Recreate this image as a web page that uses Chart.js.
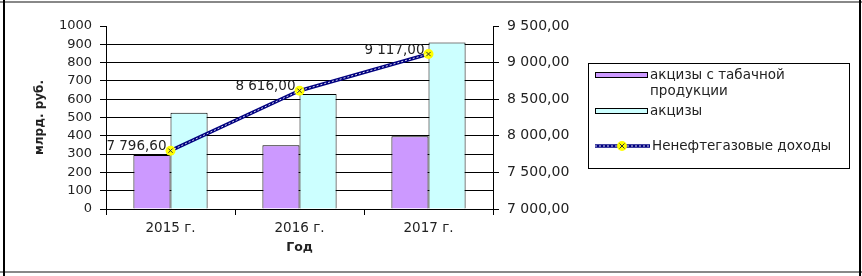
<!DOCTYPE html>
<html lang="ru">
<head>
<meta charset="utf-8">
<title>Акцизы и ненефтегазовые доходы</title>
<script src="https://cdn.jsdelivr.net/npm/chart.js@4.4.1/dist/chart.umd.min.js"></script>
<style>
    html, body { margin: 0; padding: 0; background: #fff; }
    #wrap { width: 862px; height: 276px; }
</style>
</head>
<body>
<div id="wrap"><canvas id="chart" width="862" height="276"></canvas></div>
<script>
// Chart data
const years = ['2015 г.', '2016 г.', '2017 г.'];
const tobaccoExcise = [295, 348, 397];
const totalExcise = [526, 628, 910];
const nonOilIncome = [7796.6, 8616, 9117];

// Axis ranges
const leftTicks = [0, 100, 200, 300, 400, 500, 600, 700, 800, 900, 1000];
const rightTicks = [7000, 7500, 8000, 8500, 9000, 9500];

const FONT = '"DejaVu Sans", Verdana, sans-serif';
const TEXT = '#222';

Chart.defaults.font.family = FONT;
Chart.defaults.color = TEXT;

// 9 117,00 style numbers
function formatRu(v) {
    const parts = Number(v).toFixed(2).split('.');
    return parts[0].replace(/\B(?=(\d{3})+(?!\d))/g, ' ') + ',' + parts[1];
}

// Page frame around the chart
const framePlugin = {
    id: 'frame',
    beforeDraw(chart) {
        const ctx = chart.ctx;
        ctx.save();
        ctx.fillStyle = '#fff';
        ctx.fillRect(0, 0, chart.width, chart.height);
        ctx.fillStyle = '#888';
        ctx.fillRect(0, 1, chart.width, 2);
        ctx.fillRect(0, 271, chart.width, 2);
        ctx.fillStyle = '#000';
        ctx.fillRect(3, 0, 2, chart.height);
        ctx.fillRect(859, 0, 2, chart.height);
        ctx.restore();
    }
};

// Value labels next to line points
const valueLabels = {
    id: 'valueLabels',
    afterDatasetsDraw(chart) {
        const ctx = chart.ctx;
        const meta = chart.getDatasetMeta(2);
        ctx.save();
        ctx.font = '13.5px ' + FONT;
        ctx.fillStyle = TEXT;
        ctx.textAlign = 'right';
        ctx.textBaseline = 'middle';
        meta.data.forEach((pt, i) => {
            ctx.fillText(formatRu(nonOilIncome[i]), pt.x - 4, pt.y - 4);
        });
        ctx.restore();
    }
};

function drawMarker(ctx, x, y) {
    ctx.fillStyle = '#ffff00';
    ctx.beginPath();
    ctx.arc(x, y, 5, 0, Math.PI * 2);
    ctx.fill();
    ctx.strokeStyle = '#333';
    ctx.lineWidth = 1;
    ctx.beginPath();
    ctx.moveTo(x - 2.5, y - 2.5); ctx.lineTo(x + 2.5, y + 2.5);
    ctx.moveTo(x + 2.5, y - 2.5); ctx.lineTo(x - 2.5, y + 2.5);
    ctx.stroke();
}

function drawPatternLine(ctx, x1, x2, y) {
    ctx.strokeStyle = '#000080';
    ctx.lineWidth = 3.5;
    ctx.setLineDash([]);
    ctx.beginPath(); ctx.moveTo(x1, y); ctx.lineTo(x2, y); ctx.stroke();
    ctx.strokeStyle = 'rgba(255,255,255,0.85)';
    ctx.lineWidth = 1;
    ctx.setLineDash([2, 2]);
    ctx.beginPath(); ctx.moveTo(x1, y); ctx.lineTo(x2, y); ctx.stroke();
    ctx.setLineDash([]);
}

// Boxed legend on the right
const boxLegend = {
    id: 'boxLegend',
    afterDraw(chart) {
        const ctx = chart.ctx;
        const box = { x: 588.5, y: 63.5, w: 261, h: 105 };
        ctx.save();
        ctx.strokeStyle = '#000';
        ctx.lineWidth = 1;
        ctx.strokeRect(box.x, box.y, box.w, box.h);

        ctx.font = '13.5px ' + FONT;
        ctx.fillStyle = TEXT;
        ctx.textBaseline = 'middle';
        ctx.textAlign = 'left';

        const ds = chart.data.datasets;
        // bar entries
        const rows = [
            { d: ds[0], y: 75, lines: ['акцизы с табачной', 'продукции'] },
            { d: ds[1], y: 111, lines: [ds[1].label] }
        ];
        rows.forEach(r => {
            ctx.fillStyle = r.d.backgroundColor;
            ctx.fillRect(595, r.y - 2.5, 52, 5);
            ctx.strokeStyle = '#000';
            ctx.strokeRect(595.5, r.y - 2.5, 52, 5);
            ctx.fillStyle = TEXT;
            r.lines.forEach((t, k) => ctx.fillText(t, 650, r.y + k * 16));
        });

        // line entry
        const ly = 146;
        drawPatternLine(ctx, 595, 650, ly);
        drawMarker(ctx, 622, ly);
        ctx.fillStyle = TEXT;
        ctx.fillText(ds[2].label, 652, ly);
        ctx.restore();
    }
};

const ctx = document.getElementById('chart').getContext('2d');
new Chart(ctx, {
    type: 'bar',
    data: {
        labels: years,
        datasets: [
            {
                label: 'акцизы с табачной продукции',
                data: tobaccoExcise,
                backgroundColor: '#cc99ff',
                borderColor: '#000',
                borderWidth: 1,
                yAxisID: 'y',
                order: 3
            },
            {
                label: 'акцизы',
                data: totalExcise,
                backgroundColor: '#ccffff',
                borderColor: '#000',
                borderWidth: 1,
                yAxisID: 'y',
                order: 3
            },
            {
                type: 'line',
                label: 'Ненефтегазовые доходы',
                data: nonOilIncome,
                borderColor: '#000080',
                borderWidth: 3.5,
                pointStyle: 'circle',
                pointRadius: 5,
                pointBackgroundColor: '#ffff00',
                pointBorderColor: '#ffff00',
                pointBorderWidth: 0,
                tension: 0,
                yAxisID: 'y1',
                order: 1
            },
            {
                // white dotted core of the line + cross markers
                type: 'line',
                label: '',
                data: nonOilIncome,
                borderColor: 'rgba(255,255,255,0.85)',
                borderWidth: 1,
                borderDash: [2, 2],
                pointStyle: 'crossRot',
                pointRadius: 3,
                pointBorderColor: '#333',
                pointBorderWidth: 1,
                tension: 0,
                yAxisID: 'y1',
                order: 0
            }
        ]
    },
    options: {
        responsive: false,
        animation: false,
        devicePixelRatio: 1,
        layout: { padding: { top: 26, left: 0, right: 0, bottom: 0 } },
        datasets: {
            bar: { categoryPercentage: 0.575, barPercentage: 1 }
        },
        plugins: {
            legend: { display: false },
            tooltip: { enabled: false }
        },
        scales: {
            x: {
                offset: true,
                grid: {
                    offset: true,
                    drawOnChartArea: false,
                    drawTicks: true,
                    tickLength: 6,
                    tickColor: '#000'
                },
                border: { color: '#000', width: 1 },
                ticks: { font: { size: 13.5 }, color: TEXT, padding: 5 },
                title: {
                    display: true,
                    text: 'Год',
                    font: { size: 12.5, weight: 'bold' },
                    color: TEXT,
                    padding: { top: 0, bottom: 21 }
                },
                afterFit(scale) { scale.height = 67; }
            },
            y: {
                position: 'left',
                min: leftTicks[0],
                max: leftTicks[leftTicks.length - 1],
                ticks: {
                    stepSize: leftTicks[1] - leftTicks[0],
                    autoSkip: false,
                    callback: v => String(v),
                    font: { size: 13 },
                    color: TEXT,
                    padding: 8
                },
                grid: {
                    color: c => (c.tick && c.tick.value === leftTicks[leftTicks.length - 1]) ? 'rgba(0,0,0,0)' : '#000',
                    tickColor: '#000',
                    tickLength: 6,
                    lineWidth: 1
                },
                border: { color: '#000', width: 1 },
                title: {
                    display: true,
                    text: 'млрд. руб.',
                    font: { size: 12, weight: 'bold' },
                    color: TEXT,
                    padding: { top: 33, bottom: 0 }
                },
                afterFit(scale) { scale.width = 106; }
            },
            y1: {
                position: 'right',
                min: rightTicks[0],
                max: rightTicks[rightTicks.length - 1],
                ticks: {
                    stepSize: rightTicks[1] - rightTicks[0],
                    autoSkip: false,
                    callback: v => formatRu(v),
                    font: { size: 14 },
                    color: TEXT,
                    padding: 8
                },
                grid: {
                    drawOnChartArea: false,
                    tickColor: '#000',
                    tickLength: 6
                },
                border: { color: '#000', width: 1 },
                afterFit(scale) { scale.width = 369; }
            }
        }
    },
    plugins: [framePlugin, valueLabels, boxLegend]
});
</script>
</body>
</html>
